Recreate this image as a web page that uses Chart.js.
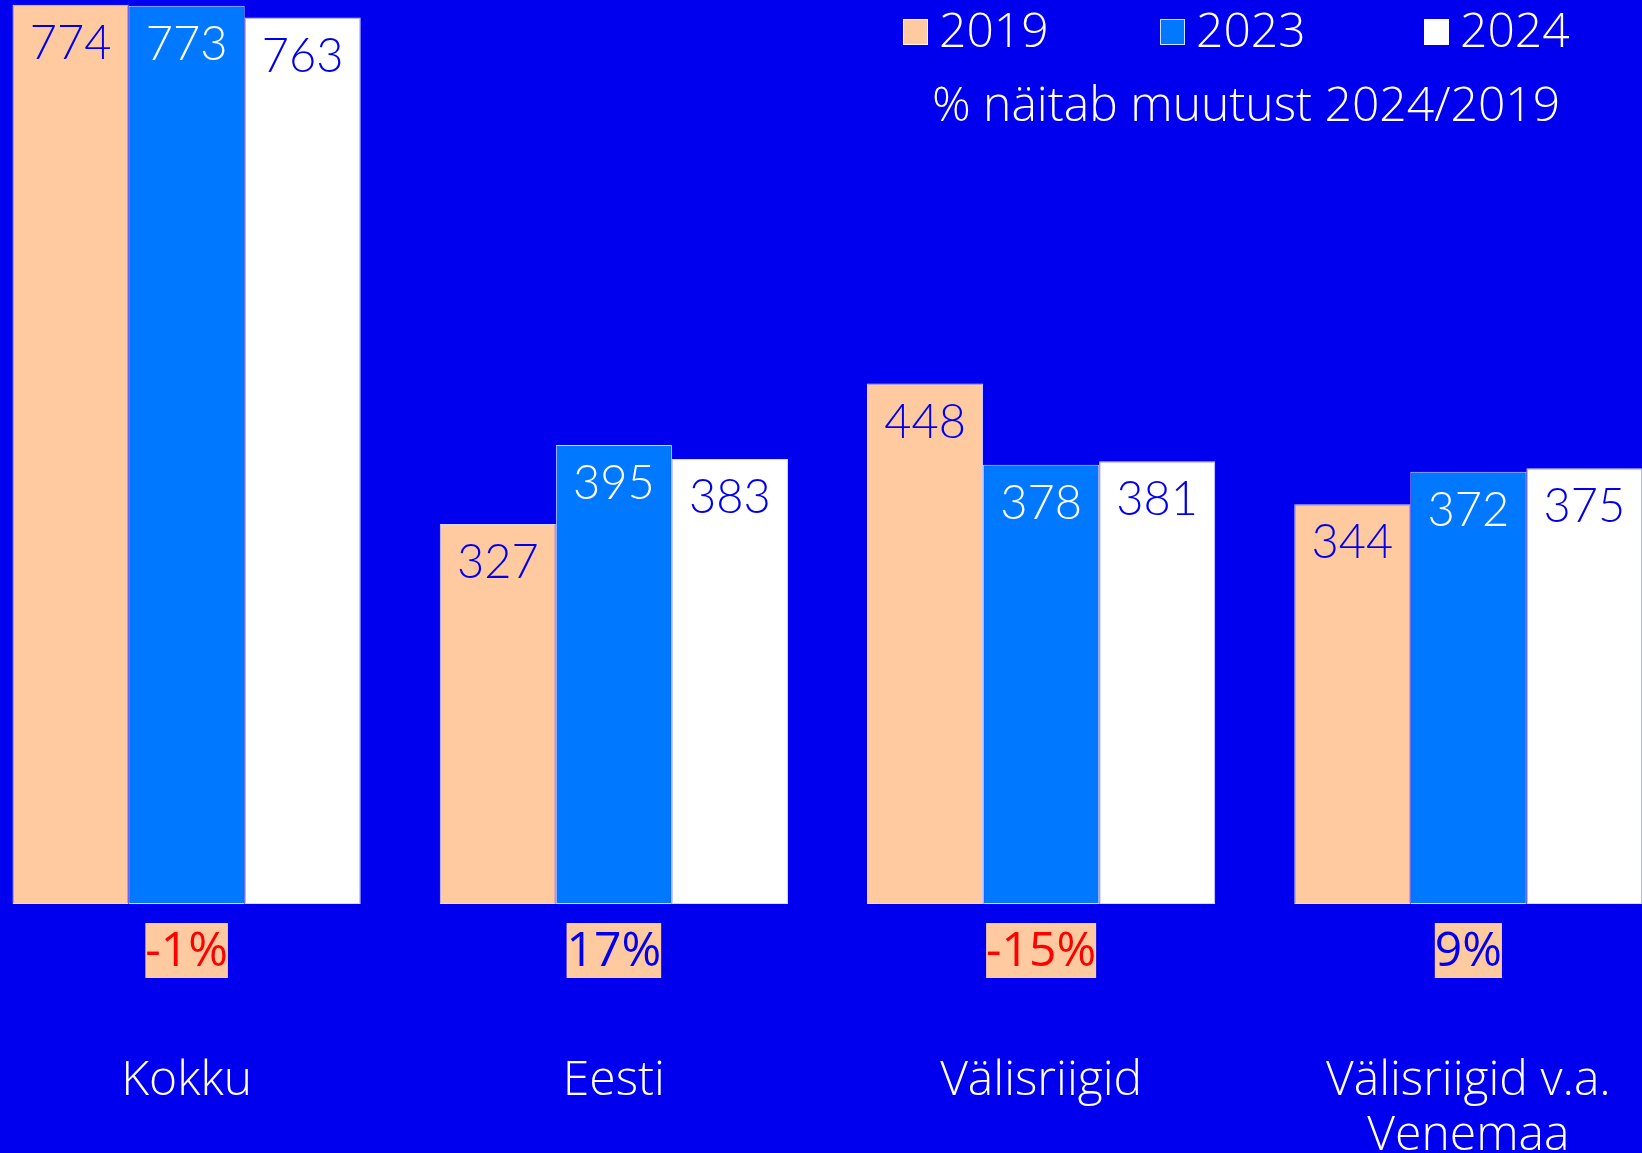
<!DOCTYPE html>
<html>
<head>
<meta charset="utf-8">
<script src="https://cdn.jsdelivr.net/npm/chart.js@4"></script>
<style>
    html, body { margin: 0; padding: 0; background: #0000EE; overflow: hidden; }
    body { width: 1642px; height: 1153px; position: relative; }
    #wrap { position: absolute; left: -27px; top: 0; width: 1709px; height: 1153px; }
    #turistid { width: 1709px; height: 1153px; }
</style>
</head>
<body>
<div id="wrap"><canvas id="turistid" width="1709" height="1153"></canvas></div>
<script>
// Kategooriad (x-telg)
const kategooriad = ['Kokku', 'Eesti', 'Välisriigid', ['Välisriigid v.a.', 'Venemaa']];

// Väärtused aastate kaupa
const aasta2019 = [774, 327, 448, 344];
const aasta2023 = [773, 395, 378, 372];
const aasta2024 = [763, 383, 381, 375];

// Muutus 2024/2019 (%)
const muutus = [-1, 17, -15, 9];

const seeriad = ['2019', '2023', '2024'];
const alaTekst = '% näitab muutust 2024/2019';

const varvid = ['#FFCAA0', '#0078FF', '#FFFFFF'];
const sildiVarvid = ['#0000EE', '#FFFFFF', '#0000EE'];

// Väärtuste sildid tulpade sees
const vaartusSildid = {
    id: 'vaartusSildid',
    afterDatasetsDraw(chart) {
        const ctx = chart.ctx;
        ctx.save();
        ctx.font = '300 47px Lato';
        ctx.textAlign = 'center';
        ctx.textBaseline = 'middle';
        chart.data.datasets.forEach(function(ds, i) {
            const meta = chart.getDatasetMeta(i);
            meta.data.forEach(function(bar, j) {
                ctx.fillStyle = sildiVarvid[i];
                ctx.fillText(String(ds.data[j]), bar.x, bar.y + 39);
            });
        });
        ctx.restore();
    }
};

// Muutuse protsendid kastides tulpade all
const muutusSildid = {
    id: 'muutusSildid',
    afterDraw(chart) {
        const ctx = chart.ctx;
        const x = chart.scales.x;
        const yKesk = chart.chartArea.bottom + 46;
        ctx.save();
        ctx.font = '48px "Open Sans"';
        ctx.textAlign = 'center';
        ctx.textBaseline = 'middle';
        muutus.forEach(function(m, i) {
            const tekst = m + '%';
            const w = ctx.measureText(tekst).width;
            const cx = x.getPixelForValue(i);
            ctx.fillStyle = varvid[0];
            ctx.fillRect(cx - w / 2, yKesk - 27, w, 55);
            ctx.fillStyle = m < 0 ? '#FF0000' : '#0000EE';
            ctx.fillText(tekst, cx, yKesk + 2);
        });
        ctx.restore();
    }
};

// Legend paremal üleval
const legendPlugin = {
    id: 'legendPlugin',
    afterDraw(chart) {
        const ctx = chart.ctx;
        ctx.save();
        ctx.font = '300 48px "Open Sans"';
        ctx.textBaseline = 'middle';
        ctx.textAlign = 'left';
        const algus = [930, 1187, 1451];
        chart.data.datasets.forEach(function(ds, i) {
            ctx.fillStyle = ds.backgroundColor;
            ctx.fillRect(algus[i], 19, 25, 26);
            ctx.strokeStyle = 'rgba(255,255,255,0.8)';
            ctx.lineWidth = 1;
            ctx.strokeRect(algus[i] + 0.5, 19.5, 24, 25);
            ctx.fillStyle = '#FFFFFF';
            ctx.fillText(ds.label, algus[i] + 36, 33);
        });
        ctx.textAlign = 'center';
        ctx.fillText(alaTekst, 1273, 107);
        ctx.restore();
    }
};

var ctx1 = document.getElementById('turistid').getContext('2d');
var turistidChart = new Chart(ctx1, {
    type: 'bar',
    data: {
        labels: kategooriad,
        datasets: [aasta2019, aasta2023, aasta2024].map(function(d, i) {
            return {
                label: seeriad[i],
                data: d,
                backgroundColor: varvid[i],
                borderColor: 'rgba(255,255,255,0.85)',
                borderWidth: 1,
                borderSkipped: false,
                categoryPercentage: 0.815,
                barPercentage: 1.0
            };
        })
    },
    options: {
        responsive: false,
        animation: false,
        devicePixelRatio: 1,
        layout: { padding: 0 },
        plugins: {
            legend: { display: false },
            tooltip: { enabled: false }
        },
        scales: {
            y: {
                display: false,
                min: 0,
                max: 778
            },
            x: {
                grid: { display: false, drawTicks: false },
                border: { display: false },
                ticks: {
                    color: '#FFFFFF',
                    padding: 150,
                    maxRotation: 0,
                    autoSkip: false,
                    font: { family: 'Open Sans', size: 48, weight: '300', lineHeight: 1.15 }
                },
                afterFit: function(scale) {
                    scale.height = 249;
                    scale.paddingLeft = 0;
                    scale.paddingRight = 0;
                }
            }
        }
    },
    plugins: [vaartusSildid, muutusSildid, legendPlugin]
});
</script>
</body>
</html>
